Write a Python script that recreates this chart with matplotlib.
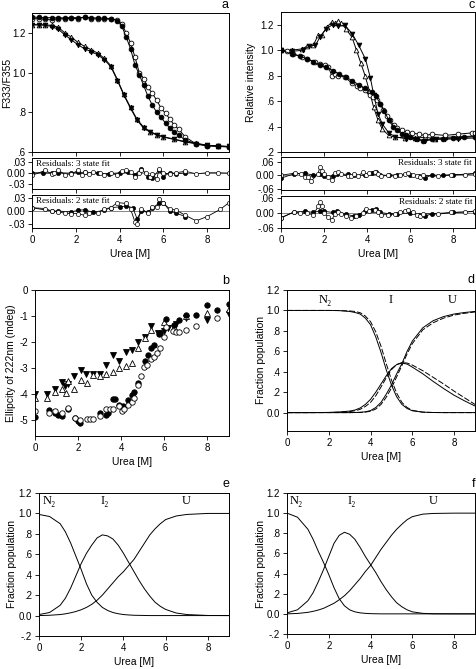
import matplotlib
matplotlib.use("Agg")
import matplotlib.pyplot as plt
import numpy as np

plt.rcParams['font.family'] = ['Liberation Sans', 'DejaVu Sans']
plt.rcParams['axes.linewidth'] = 0.7
SERIF = ['Liberation Serif', 'DejaVu Serif']

# ---------------- Panel a : F333/F355 ----------------
a_fc_x = [0, 0.3, 0.6, 0.9, 1.2, 1.5, 1.8, 2.1, 2.4, 2.7, 3.0, 3.3, 3.6, 3.9, 4.1, 4.3, 4.5, 4.7, 4.9,
          5.1, 5.3, 5.5, 5.7, 5.9, 6.1, 6.3, 6.5, 6.7, 7.0, 7.5, 8.0, 8.5, 9.0]
a_fc_y = [1.28, 1.278, 1.276, 1.277, 1.275, 1.276, 1.277, 1.276, 1.278, 1.276, 1.275, 1.274, 1.272, 1.262,
          1.235, 1.18, 1.12, 1.04, 0.99, 0.935, 0.88, 0.835, 0.80, 0.775, 0.745, 0.72, 0.70, 0.685, 0.66,
          0.642, 0.632, 0.628, 0.625]
a_oc_x = [0, 0.3, 0.6, 0.9, 1.2, 1.5, 1.8, 2.1, 2.4, 2.7, 3.0, 3.3, 3.6, 3.9, 4.1, 4.3, 4.5, 4.7, 4.9,
          5.1, 5.3, 5.5, 5.7, 5.9, 6.1, 6.3, 6.5, 6.7, 7.0, 7.5, 8.0, 8.5, 9.0]
a_oc_y = [1.27, 1.272, 1.268, 1.265, 1.272, 1.27, 1.275, 1.27, 1.28, 1.272, 1.27, 1.268, 1.27, 1.265,
          1.245, 1.2, 1.15, 1.08, 1.0, 0.97, 0.925, 0.895, 0.86, 0.82, 0.795, 0.765, 0.735, 0.715, 0.676,
          0.64, 0.63, 0.63, 0.626]
a_ft_x = [0, 0.3, 0.6, 0.9, 1.2, 1.5, 1.8, 2.1, 2.4, 2.7, 3.0, 3.3, 3.6, 3.9, 4.2, 4.5, 4.8, 5.1, 5.4,
          5.7, 6.0, 6.5, 7.0, 7.5, 8.0, 8.5, 9.0]
a_ft_y = [1.24, 1.24, 1.238, 1.232, 1.218, 1.19, 1.165, 1.14, 1.12, 1.105, 1.09, 1.065, 1.03, 0.96,
          0.885, 0.82, 0.76, 0.72, 0.70, 0.685, 0.675, 0.663, 0.65, 0.642, 0.634, 0.63, 0.628]
a_ot_x = [0, 0.3, 0.6, 0.9, 1.2, 1.5, 1.8, 2.1, 2.4, 2.7, 3.0, 3.3, 3.6, 3.9, 4.2, 4.5, 4.8, 5.1, 5.4,
          5.7, 6.0, 6.5, 7.0, 7.5, 8.0, 8.5, 9.0]
a_ot_y = [1.24, 1.242, 1.24, 1.238, 1.228, 1.20, 1.178, 1.152, 1.132, 1.115, 1.098, 1.072, 1.035, 0.965,
          0.89, 0.825, 0.765, 0.725, 0.703, 0.688, 0.677, 0.665, 0.652, 0.643, 0.635, 0.63, 0.628]

# residuals a
a_r3_o_x = [0, 0.6, 0.9, 1.0, 1.2, 1.5, 1.8, 2.1, 2.3, 2.4, 2.6, 2.8, 3.1, 3.3, 3.6, 3.9, 4.1, 4.3, 4.5,
            4.7, 4.9, 5.0, 5.2, 5.4, 5.5, 5.7, 5.8, 6.0, 6.3, 6.6, 7.0, 7.5, 8.0, 8.5, 9.0]
a_r3_o_y = [-0.006, 0.007, -0.002, 0.001, 0.008, -0.004, -0.002, 0.007, -0.006, 0.003, -0.002, 0.003,
            0.001, -0.006, 0.001, -0.006, 0.005, 0.007, 0.003, -0.009, 0.001, 0.008, 0.0, -0.009, -0.002,
            -0.016, 0.010, 0.0, -0.002, 0.001, 0.005, -0.002, 0.001, 0.001, 0.0]
a_r3_f_x = [0, 0.5, 0.9, 1.2, 1.8, 2.1, 2.4, 3.0, 3.5, 4.0, 4.4, 4.7, 5.0, 5.3, 5.5, 5.8, 6.0, 6.3, 6.6, 7.0]
a_r3_f_y = [0.001, 0.001, 0.0, 0.001, 0.0, 0.002, 0.002, 0.0, -0.002, 0.001, 0.002, -0.004, 0.012,
            -0.009, -0.013, 0.008, -0.009, 0.001, -0.002, 0.001]
a_r2_o_x = [0, 0.6, 0.9, 1.2, 1.5, 1.8, 2.1, 2.4, 2.6, 3.0, 3.3, 3.6, 3.9, 4.3, 4.5, 4.7, 4.8, 5.0, 5.3,
            5.5, 5.7, 5.8, 6.0, 6.3, 6.6, 7.0, 7.5, 8.0, 8.6, 9.0]
a_r2_o_y = [0.008, 0.006, 0.0, -0.002, -0.005, -0.006, -0.006, -0.010, -0.005, -0.004, 0.005, 0.008,
            0.020, 0.018, 0.005, -0.025, -0.030, 0.006, -0.005, 0.010, 0.010, 0.028, 0.018, 0.005, 0.002,
            -0.010, -0.023, -0.013, 0.004, 0.020]
a_r2_f_x = [0, 0.9, 1.2, 1.8, 2.1, 2.4, 2.8, 3.3, 3.6, 4.0, 4.3, 4.6, 4.8, 5.0, 5.3, 5.5, 5.8, 6.0, 6.3,
            6.6, 7.0]
a_r2_f_y = [0.008, 0.0, 0.0, -0.002, 0.002, 0.003, -0.003, 0.002, 0.008, 0.010, 0.012, 0.008, -0.018,
            0.0, -0.003, 0.008, 0.018, 0.020, 0.0, -0.005, -0.013]

# ---------------- Panel c : relative intensity ----------------
c_ot_x = [0, 0.5, 0.96, 1.2, 1.5, 1.73, 1.89, 2.12, 2.35, 2.5, 2.66, 2.8, 3.0, 3.3, 3.5, 3.7, 3.9, 4.1,
          4.3, 4.5, 4.7, 5.0, 5.3, 5.76, 6.22, 6.69, 7.15, 7.6, 8.2, 9.0]
c_ot_y = [1.0, 1.0, 1.01, 1.03, 1.04, 1.12, 1.12, 1.18, 1.22, 1.21, 1.23, 1.21, 1.17, 1.10, 1.0, 0.90,
          0.80, 0.68, 0.55, 0.45, 0.38, 0.33, 0.315, 0.31, 0.31, 0.315, 0.305, 0.315, 0.32, 0.325]
c_ft_x = [0, 0.5, 1.0, 1.3, 1.6, 1.8, 2.1, 2.4, 2.66, 2.97, 3.3, 3.6, 3.92, 4.15, 4.3, 4.5, 4.7, 5.0,
          5.3, 5.8, 6.2, 6.7, 7.2, 7.6, 8.2, 9.0]
c_ft_y = [1.0, 0.99, 1.0, 1.03, 1.04, 1.10, 1.17, 1.20, 1.19, 1.195, 1.13, 1.04, 0.93, 0.78, 0.65, 0.50,
          0.42, 0.35, 0.32, 0.305, 0.30, 0.29, 0.30, 0.30, 0.305, 0.31]
c_oc_x = [0, 0.3, 0.57, 0.96, 1.19, 1.58, 1.81, 2.04, 2.2, 2.35, 2.5, 2.66, 2.97, 3.28, 3.51, 3.67, 3.9,
          4.13, 4.29, 4.44, 4.6, 4.75, 4.9, 5.06, 5.22, 5.37, 5.6, 5.84, 6.07, 6.38, 6.69, 7.0, 7.6, 8.2,
          8.85, 9.0]
c_oc_y = [1.0, 0.99, 0.97, 0.946, 0.93, 0.91, 0.89, 0.88, 0.87, 0.80, 0.81, 0.80, 0.79, 0.74, 0.72, 0.70,
          0.69, 0.65, 0.63, 0.61, 0.58, 0.53, 0.48, 0.45, 0.41, 0.39, 0.37, 0.36, 0.35, 0.34, 0.33, 0.34,
          0.33, 0.34, 0.35, 0.35]
c_fc_x = [0, 0.5, 0.9, 1.2, 1.5, 1.8, 2.1, 2.4, 2.7, 3.0, 3.3, 3.6, 3.9, 4.2, 4.4, 4.6, 4.8, 5.0, 5.2,
          5.4, 5.6, 5.8, 6.0, 6.3, 6.6, 7.0, 7.5, 8.0, 8.5, 9.0]
c_fc_y = [1.0, 0.97, 0.955, 0.93, 0.91, 0.88, 0.87, 0.84, 0.81, 0.79, 0.76, 0.73, 0.70, 0.67, 0.64, 0.58,
          0.52, 0.45, 0.40, 0.37, 0.34, 0.33, 0.315, 0.30, 0.29, 0.30, 0.305, 0.31, 0.315, 0.32]

c_r3_o_x = [0, 0.65, 0.95, 1.1, 1.23, 1.4, 1.72, 1.8, 1.88, 2.0, 2.18, 2.35, 2.5, 2.65, 2.8, 3.1, 3.26,
            3.4, 3.57, 3.8, 3.95, 4.1, 4.35, 4.5, 4.65, 4.95, 5.27, 5.5, 5.75, 5.9, 6.14, 6.3, 6.45, 6.6,
            7.3, 7.9, 8.55, 9.0]
c_r3_o_y = [0.0, 0.009, 0.004, -0.006, -0.009, -0.026, 0.006, 0.036, 0.020, 0.004, -0.006, -0.020, 0.009,
            0.013, 0.004, -0.004, -0.004, 0.004, -0.004, 0.013, 0.0, 0.011, 0.016, 0.006, -0.004, -0.001,
            -0.004, 0.001, 0.006, 0.011, 0.001, -0.004, -0.009, -0.001, -0.004, 0.003, 0.003, 0.006]
c_r3_f_x = [0, 0.6, 1.1, 1.5, 1.8, 2.0, 2.4, 2.6, 3.1, 3.4, 3.9, 4.2, 4.4, 4.6, 5.0, 5.4, 6.0, 6.4, 6.7,
            7.0, 7.5, 8.0, 9.0]
c_r3_f_y = [-0.013, 0.006, 0.009, 0.0, 0.004, -0.004, -0.004, 0.004, 0.004, 0.0, 0.0, 0.009, 0.013,
            0.001, -0.001, 0.003, 0.001, -0.004, -0.011, 0.001, -0.001, 0.001, 0.008]
c_r2_o_x = [0, 0.6, 0.9, 1.2, 1.5, 1.72, 1.8, 1.9, 2.0, 2.2, 2.35, 2.5, 2.65, 2.8, 3.0, 3.26, 3.5, 3.8,
            3.95, 4.1, 4.35, 4.5, 4.65, 4.95, 5.27, 5.5, 5.75, 5.9, 6.14, 6.3, 6.45, 6.6, 7.3, 7.9, 8.55,
            9.0]
c_r2_o_y = [-0.020, 0.004, 0.0, -0.002, -0.007, 0.027, 0.045, 0.030, 0.0, -0.017, -0.029, -0.005, 0.004,
            -0.004, -0.011, -0.020, -0.013, 0.0, 0.016, 0.008, 0.011, 0.002, -0.007, -0.007, -0.005, 0.002,
            0.008, 0.011, 0.002, -0.010, -0.014, -0.003, -0.005, 0.002, 0.004, 0.008]
c_r2_f_x = [0, 0.6, 1.1, 1.5, 1.8, 2.0, 2.4, 2.6, 3.0, 3.4, 3.6, 3.9, 4.2, 4.4, 4.6, 5.0, 5.4, 6.0, 6.4,
            6.7, 7.0, 8.0, 9.0]
c_r2_f_y = [-0.020, 0.004, 0.007, 0.002, 0.009, 0.007, 0.002, 0.007, -0.005, -0.013, -0.007, 0.007,
            0.011, 0.017, 0.002, -0.003, -0.003, 0.0, -0.007, -0.013, -0.003, 0.002, 0.006]

# ---------------- Panel b : ellipticity ----------------
b_fc_x = [0, 0.65, 0.92, 1.08, 1.23, 1.54, 1.85, 2.0, 2.08, 3.0, 3.3, 3.4, 3.6, 3.7, 3.9, 4.1, 4.3, 4.5,
          4.6, 4.77, 5.08, 5.23, 5.4, 5.5, 5.77, 5.8, 6.08, 6.46, 6.7, 7.0, 7.46, 8.0, 8.46, 9.0]
b_fc_y = [-4.87, -4.61, -4.71, -4.78, -4.84, -4.58, -4.91, -5.02, -5.1, -4.70, -4.80, -4.71, -4.18,
          -4.18, -4.41, -4.45, -4.22, -4.03, -3.90, -3.55, -2.73, -2.49, -2.21, -2.12, -1.69, -1.64,
          -1.13, -1.34, -1.14, -0.97, -0.95, -0.58, -0.78, -0.52]
b_oc_x = [0, 0.65, 0.92, 1.23, 1.54, 1.85, 2.1, 2.43, 2.54, 2.69, 3.0, 3.3, 3.46, 3.6, 3.9, 4.03, 4.15,
          4.3, 4.5, 4.6, 4.8, 4.9, 5.05, 5.2, 5.38, 5.5, 5.66, 5.78, 6.0, 6.08, 6.38, 6.54, 6.69, 7.0,
          7.46, 8.46]
b_oc_y = [-4.65, -4.71, -4.65, -4.71, -4.52, -4.91, -4.97, -4.96, -4.96, -4.96, -4.83, -4.58, -4.58,
          -4.55, -4.45, -4.65, -4.55, -4.42, -4.29, -4.16, -3.66, -3.31, -2.96, -2.88, -2.64, -2.57,
          -2.40, -2.21, -1.79, -1.43, -1.56, -1.62, -1.62, -1.53, -1.40, -1.08]
b_ft_x = [0, 0.54, 0.92, 1.23, 1.38, 1.54, 1.82, 2.12, 2.38, 2.69, 3.0, 3.3, 3.62, 3.92, 4.2, 4.5, 4.8,
          5.1, 5.4, 5.72, 6.0, 6.15, 6.54, 7.0, 8.0, 9.0]
b_ft_y = [-4.0, -4.0, -3.81, -3.53, -3.70, -3.61, -3.31, -3.05, -3.21, -3.21, -3.21, -2.88, -2.51,
          -2.73, -2.38, -2.31, -2.01, -1.82, -1.40, -1.66, -1.58, -1.47, -1.32, -1.06, -1.14, -0.91]
b_ot_x = [0, 0.54, 0.92, 1.23, 1.42, 1.54, 1.82, 2.12, 2.43, 2.69, 3.0, 3.3, 3.62, 3.92, 4.2, 4.5, 4.8,
          5.1, 5.4, 5.97, 6.46, 7.0, 8.0, 9.0]
b_ot_y = [-4.13, -4.13, -3.93, -3.81, -3.96, -3.48, -3.81, -3.44, -3.55, -3.25, -3.29, -3.21, -3.14,
          -2.99, -2.92, -2.79, -2.21, -1.84, -1.52, -1.21, -1.43, -1.01, -0.88, -0.74]

# ---------------- Panel d : fraction population (two models) ----------------
d_x = [0, 1, 2, 2.5, 3, 3.25, 3.5, 3.75, 4, 4.25, 4.5, 4.75, 5, 5.25, 5.5, 5.75, 6, 6.5, 7, 7.5, 8, 8.5, 9]
d_N_solid = [1.0, 1.0, 1.0, 0.998, 0.99, 0.98, 0.965, 0.925, 0.86, 0.74, 0.59, 0.42, 0.27, 0.155, 0.08,
             0.04, 0.018, 0.004, 0.001, 0, 0, 0, 0]
d_I_solid = [0, 0, 0.002, 0.006, 0.015, 0.025, 0.045, 0.08, 0.13, 0.2, 0.28, 0.36, 0.43, 0.47, 0.485,
             0.475, 0.445, 0.38, 0.305, 0.235, 0.17, 0.115, 0.065]
d_U_solid = [0, 0, 0, 0, 0, 0.001, 0.003, 0.008, 0.02, 0.05, 0.1, 0.18, 0.27, 0.38, 0.48, 0.6, 0.7, 0.83,
             0.9, 0.94, 0.965, 0.98, 0.99]
d_N_dash = [1.0, 1.0, 1.0, 0.999, 0.995, 0.99, 0.978, 0.945, 0.89, 0.79, 0.65, 0.48, 0.32, 0.19, 0.1,
            0.05, 0.022, 0.005, 0.001, 0, 0, 0, 0]
d_I_dash = [0, 0, 0.001, 0.004, 0.01, 0.018, 0.032, 0.06, 0.1, 0.165, 0.25, 0.34, 0.42, 0.47, 0.49,
            0.485, 0.465, 0.41, 0.345, 0.28, 0.21, 0.145, 0.08]
d_U_dash = [0, 0, 0, 0, 0, 0.001, 0.002, 0.005, 0.013, 0.035, 0.08, 0.15, 0.24, 0.35, 0.46, 0.575, 0.675,
            0.81, 0.88, 0.925, 0.955, 0.972, 0.985]

# ---------------- Panels e, f ----------------
ef_x = [0, 0.5, 1, 1.25, 1.5, 1.75, 2, 2.25, 2.5, 2.75, 3, 3.25, 3.5, 3.75, 4, 4.25, 4.5, 4.75, 5,
        5.25, 5.5, 5.75, 6, 6.5, 7, 8, 9]
e_N2 = [0.99, 0.97, 0.90, 0.82, 0.71, 0.58, 0.45, 0.31, 0.20, 0.13, 0.08, 0.05, 0.03, 0.018, 0.01,
        0.006, 0.003, 0.002, 0.001, 0, 0, 0, 0, 0, 0, 0, 0]
e_I2 = [0.01, 0.03, 0.10, 0.17, 0.27, 0.39, 0.51, 0.61, 0.69, 0.76, 0.79, 0.78, 0.75, 0.69, 0.61, 0.52,
        0.43, 0.34, 0.26, 0.19, 0.13, 0.09, 0.06, 0.025, 0.01, 0.001, 0]
e_U = [0.0, 0.003, 0.01, 0.017, 0.027, 0.04, 0.057, 0.08, 0.11, 0.15, 0.2, 0.26, 0.32, 0.38, 0.43, 0.49,
       0.55, 0.63, 0.71, 0.79, 0.85, 0.90, 0.94, 0.975, 0.99, 1.0, 1.0]
f_N2 = [1.0, 0.96, 0.84, 0.74, 0.62, 0.51, 0.39, 0.26, 0.15, 0.08, 0.04, 0.02, 0.01, 0.005, 0.002, 0.001,
        0, 0, 0, 0, 0, 0, 0, 0, 0, 0, 0]
f_I2 = [0.01, 0.04, 0.13, 0.21, 0.32, 0.44, 0.57, 0.70, 0.78, 0.81, 0.79, 0.74, 0.66, 0.57, 0.49, 0.41,
        0.32, 0.24, 0.17, 0.11, 0.07, 0.04, 0.02, 0.005, 0.001, 0, 0]
f_U = [0.0, 0.004, 0.015, 0.025, 0.038, 0.055, 0.08, 0.105, 0.14, 0.18, 0.23, 0.29, 0.35, 0.42, 0.48,
       0.56, 0.64, 0.71, 0.78, 0.84, 0.89, 0.935, 0.965, 0.99, 0.997, 1.0, 1.0]

W, H = 477, 669
fig = plt.figure(figsize=(W / 100, H / 100), dpi=100)


def box(l, t, r, b):
    return fig.add_axes([l / W, 1 - b / H, (r - l) / W, (b - t) / H])


def lab(v, dec):
    s = f"{v:.{dec}f}"
    if v != 0:
        if s.startswith("0."):
            s = s[1:]
        elif s.startswith("-0."):
            s = "-" + s[2:]
    return s


def style(ax, yticks, dec, xlabels=True, ylim=None):
    ax.set_xlim(0, 9)
    ax.set_xticks([0, 2, 4, 6, 8])
    if ylim is not None:
        ax.set_ylim(*ylim)
    ax.set_yticks(yticks)
    ax.set_yticklabels([lab(v, dec) for v in yticks])
    ax.tick_params(direction='out', length=3, width=0.6, labelsize=7, pad=2)
    if not xlabels:
        ax.set_xticklabels([])


def ylab(ax, text, xcenter, left):
    # label anchor is its right edge (rotated text bottom); centre + ~5.5 px
    ax.set_ylabel(text, fontsize=7.5)
    w = ax.get_position().width * W
    ax.yaxis.set_label_coords((xcenter + 5.5 - left) / w, 0.5)


mk = dict(ms=3.4, mew=0.6, lw=0.7, color='black')

# ---- a ----
axa = box(32, 13, 229, 152)
axa.plot(a_ot_x, a_ot_y, marker='^', mfc='white', **mk)
axa.plot(a_ft_x, a_ft_y, marker='v', mfc='black', **mk)
axa.plot(a_oc_x, a_oc_y, marker='o', mfc='white', **mk)
axa.plot(a_fc_x, a_fc_y, marker='o', mfc='black', **mk)
style(axa, [0.6, 0.8, 1.0, 1.2], 1, xlabels=False, ylim=(0.6, 1.3))
axa.tick_params(axis='y', pad=1.5)
ylab(axa, 'F333/F355', 6.5, 32)
fig.text(229 / W, 1 - 5 / H, 'a', ha='right', va='center', fontsize=9)

rk = dict(ms=3.0, mew=0.5, lw=0.6, color='black')
axa1 = box(32, 158, 229, 189)
axa1.axhline(0, color='0.45', lw=0.6)
axa1.plot(a_r3_f_x, a_r3_f_y, marker='o', mfc='black', **rk)
axa1.plot(a_r3_o_x, a_r3_o_y, marker='o', mfc='white', **rk)
style(axa1, [-0.03, 0.0, 0.03], 2, xlabels=False, ylim=(-0.042, 0.04))
axa1.text(0.02, 0.93, 'Residuals: 3 state fit', transform=axa1.transAxes, family=SERIF,
          fontsize=6.5, ha='left', va='top')

axa2 = box(32, 195, 229, 228)
axa2.axhline(0, color='0.45', lw=0.6)
axa2.plot(a_r2_f_x, a_r2_f_y, marker='o', mfc='black', **rk)
axa2.plot(a_r2_o_x, a_r2_o_y, marker='o', mfc='white', **rk)
style(axa2, [-0.03, 0.0, 0.03], 2, ylim=(-0.04, 0.038))
axa2.text(0.02, 0.93, 'Residuals: 2 state fit', transform=axa2.transAxes, family=SERIF,
          fontsize=6.5, ha='left', va='top')
axa2.set_xlabel('Urea [M]', fontsize=7.5, labelpad=3)

# ---- c ----
axc = box(281, 12, 475, 152)
axc.plot(c_ot_x, c_ot_y, marker='^', mfc='white', **mk)
axc.plot(c_ft_x, c_ft_y, marker='v', mfc='black', **mk)
axc.plot(c_oc_x, c_oc_y, marker='o', mfc='white', **mk)
axc.plot(c_fc_x, c_fc_y, marker='o', mfc='black', **mk)
style(axc, [0.2, 0.4, 0.6, 0.8, 1.0, 1.2], 1, xlabels=False, ylim=(0.2, 1.3))
ylab(axc, 'Relative intensity', 250, 281)
fig.text(475 / W, 1 - 5 / H, 'c', ha='right', va='center', fontsize=9)

axc1 = box(281, 157, 475, 190)
axc1.axhline(0, color='0.45', lw=0.6)
axc1.plot(c_r3_f_x, c_r3_f_y, marker='o', mfc='black', **rk)
axc1.plot(c_r3_o_x, c_r3_o_y, marker='o', mfc='white', **rk)
style(axc1, [-0.06, 0.0, 0.06], 2, xlabels=False, ylim=(-0.065, 0.08))
axc1.text(0.985, 0.93, 'Residuals: 3 state fit', transform=axc1.transAxes, family=SERIF,
          fontsize=6.5, ha='right', va='top')

axc2 = box(281, 196, 475, 228)
axc2.axhline(0, color='0.45', lw=0.6)
axc2.plot(c_r2_f_x, c_r2_f_y, marker='o', mfc='black', **rk)
axc2.plot(c_r2_o_x, c_r2_o_y, marker='o', mfc='white', **rk)
style(axc2, [-0.06, 0.0, 0.06], 2, ylim=(-0.062, 0.07))
axc2.text(0.985, 0.93, 'Residuals: 2 state fit', transform=axc2.transAxes, family=SERIF,
          fontsize=6.5, ha='right', va='top')
axc2.set_xlabel('Urea [M]', fontsize=7.5, labelpad=3)

# ---- b ----
axb = box(35, 290, 229, 436)
sk = dict(ms=3.9, mew=0.6, ls='none', color='black')
axb.plot(b_ft_x, b_ft_y, marker='v', mfc='black', **sk)
axb.plot(b_ot_x, b_ot_y, marker='^', mfc='white', **sk)
axb.plot(b_fc_x, b_fc_y, marker='o', mfc='black', **sk)
axb.plot(b_oc_x, b_oc_y, marker='o', mfc='white', **sk)
axb.set_xlim(0, 9)
axb.set_ylim(-5.6, 0)
axb.set_xticks([0, 2, 4, 6, 8])
axb.set_yticks([0, -1, -2, -3, -4, -5])
axb.set_yticklabels(['0', '-1', '-2', '-3', '-4', '-5'])
axb.tick_params(direction='out', length=3, width=0.6, labelsize=7, pad=2)
ylab(axb, 'Ellipcity of 222nm (mdeg)', 10, 35)
axb.set_xlabel('Urea [M]', fontsize=7.5, labelpad=3)
fig.text(229 / W, 1 - 281 / H, 'b', ha='right', va='center', fontsize=9)

# ---- d ----
axd = box(287, 290, 475, 431)
axd.plot(d_x, d_N_solid, color='black', lw=0.7)
axd.plot(d_x, d_I_solid, color='black', lw=0.7)
axd.plot(d_x, d_U_solid, color='black', lw=0.7)
axd.plot(d_x, d_N_dash, color='black', lw=0.7, dashes=(6, 2))
axd.plot(d_x, d_I_dash, color='black', lw=0.7, dashes=(6, 2))
axd.plot(d_x, d_U_dash, color='black', lw=0.7, dashes=(6, 2))
style(axd, [0.0, 0.2, 0.4, 0.6, 0.8, 1.0, 1.2], 1, ylim=(-0.18, 1.2))
ylab(axd, 'Fraction population', 260, 287)
axd.set_xlabel('Urea [M]', fontsize=7.5, labelpad=3)
fig.text(475 / W, 1 - 280 / H, 'd', ha='right', va='center', fontsize=9)
for (t, xx) in [('N\u2082', 1.85), ('I', 4.95), ('U', 7.9)]:
    axd.text(xx, 1.1, t, family=SERIF, fontsize=9, ha='center', va='center')

# ---- e ----
axe = box(39, 493, 229, 636)
axe.plot(ef_x, e_N2, color='black', lw=0.7)
axe.plot(ef_x, e_I2, color='black', lw=0.7)
axe.plot(ef_x, e_U, color='black', lw=0.7)
style(axe, [-0.2, 0.0, 0.2, 0.4, 0.6, 0.8, 1.0, 1.2], 1, ylim=(-0.2, 1.2))
ylab(axe, 'Fraction population', 12, 39)
axe.set_xlabel('Urea [M]', fontsize=7.5, labelpad=3)
fig.text(229 / W, 1 - 484 / H, 'e', ha='right', va='center', fontsize=9)
for (t, xx) in [('N\u2082', 0.5), ('I\u2082', 3.1), ('U', 7.0)]:
    axe.text(xx, 1.12, t, family=SERIF, fontsize=9, ha='center', va='center')

# ---- f ----
axf = box(287, 493, 475, 634)
axf.plot(ef_x, f_N2, color='black', lw=0.7)
axf.plot(ef_x, f_I2, color='black', lw=0.7)
axf.plot(ef_x, f_U, color='black', lw=0.7)
style(axf, [-0.2, 0.0, 0.2, 0.4, 0.6, 0.8, 1.0, 1.2], 1, ylim=(-0.2, 1.2))
ylab(axf, 'Fraction population', 260, 287)
axf.set_xlabel('Urea [M]', fontsize=7.5, labelpad=3)
fig.text(475 / W, 1 - 484 / H, 'f', ha='right', va='center', fontsize=9)
for (t, xx) in [('N\u2082', 0.45), ('I\u2082', 3.1), ('U', 7.0)]:
    axf.text(xx, 1.12, t, family=SERIF, fontsize=9, ha='center', va='center')

fig.savefig('out.png', dpi=100)
